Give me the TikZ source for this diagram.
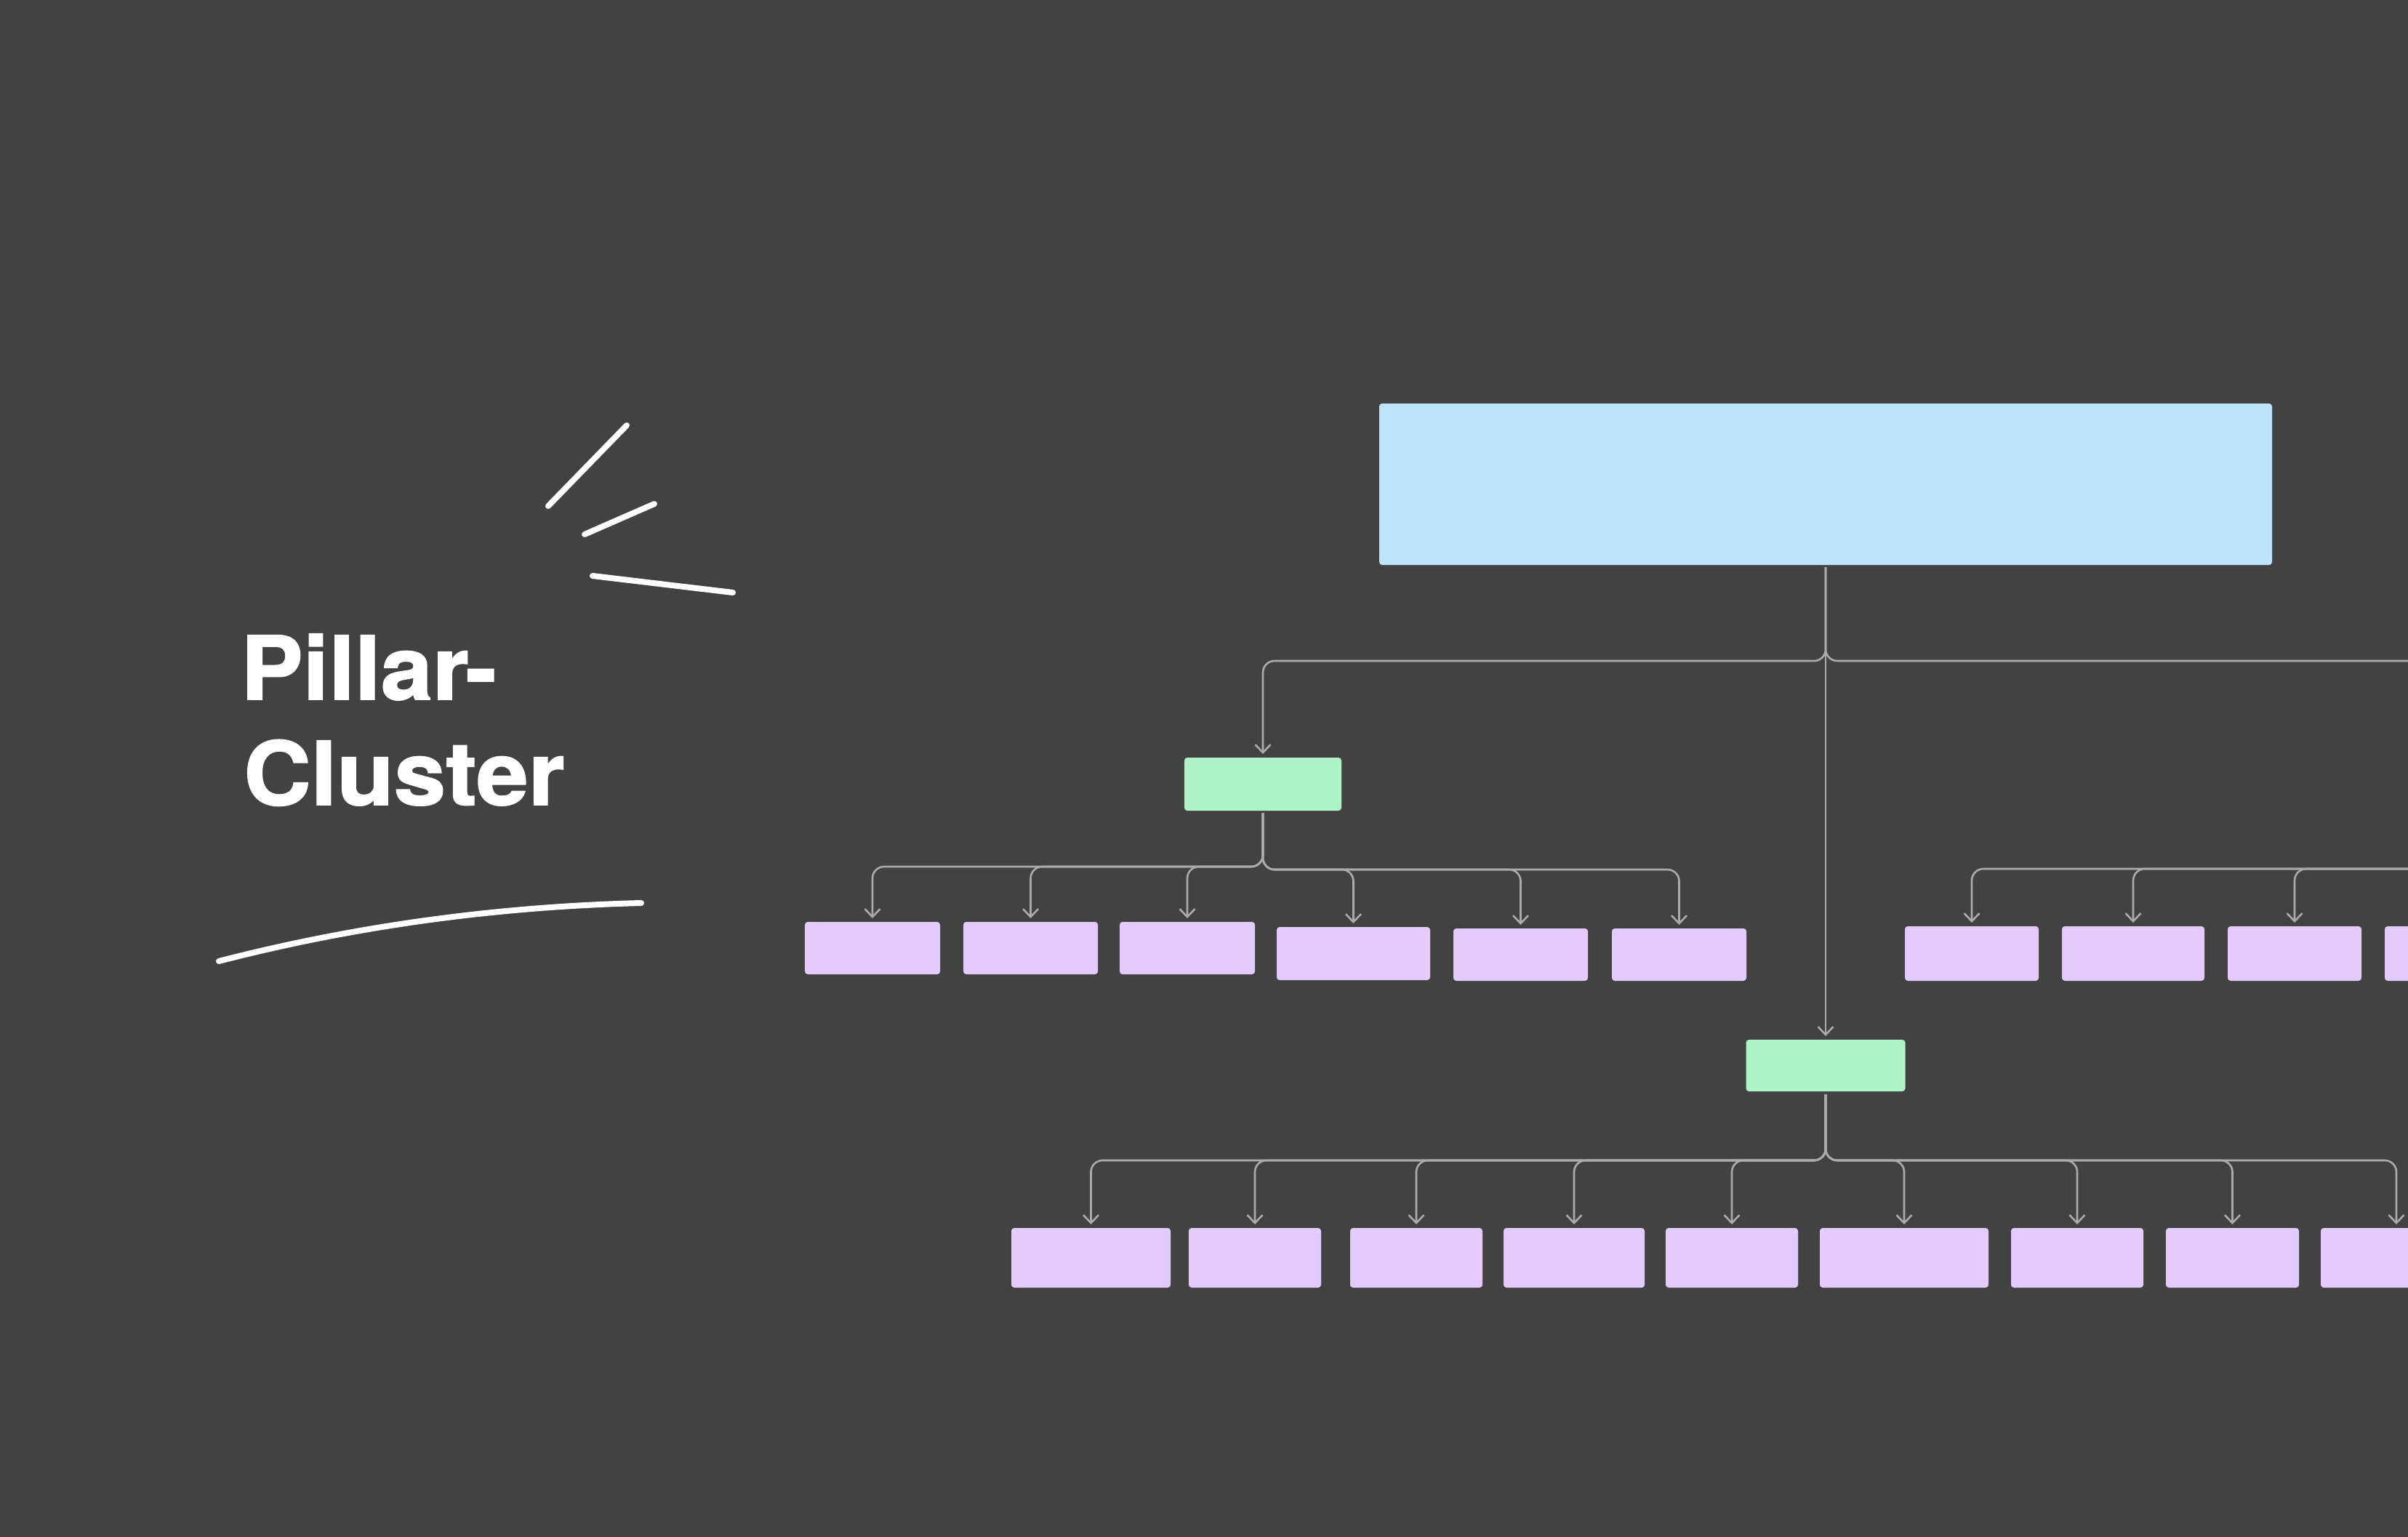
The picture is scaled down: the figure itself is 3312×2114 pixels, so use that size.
\documentclass[tikz,border=0pt]{standalone}
\usepackage{fontspec}
\setmainfont{TeX Gyre Heros}[BoldFeatures={FakeStretch=1.06,FakeBold=1.5}]
\usetikzlibrary{arrows.meta}
\definecolor{cbg}{HTML}{424242}
\definecolor{cblue}{HTML}{BDE3FD}
\definecolor{cgreen}{HTML}{AEF4C8}
\definecolor{cpurple}{HTML}{E3CCFD}
\definecolor{cline}{HTML}{ABABAB}
\begin{document}
\begin{tikzpicture}[x=1pt,y=-1pt,
  box/.style={rounded corners=4pt, inner sep=0pt, outer sep=0pt, draw=none},
  bluebox/.style={box, fill=cblue},
  greenbox/.style={box, fill=cgreen},
  purplebox/.style={box, fill=cpurple},
  conn/.style={draw=cline, line width=2.6pt, rounded corners=16pt},
  arr/.style={conn, -{Straight Barb[length=11pt,width=21pt]}, shorten >=5pt},
  stroke/.style={white, line width=8pt, line cap=round},
  title/.style={font=\fontsize{121}{145}\selectfont\bfseries, text=white, inner sep=0pt, anchor=base west}
]
\fill[cbg] (0,0) rectangle (3312,2114);
\clip (0,0) rectangle (3312,2114);

% title and decoration
\node[title] (t1) at (331,962) {Pillar-};
\node[title] (t2) at (335,1107) {Cluster};
\draw[stroke] (754,696) -- (862,585);
\draw[stroke] (804,735) -- (900,693);
\draw[stroke] (815,792) -- (1008,815);
\draw[stroke] (301,1322) .. controls (487,1274) and (681,1247) .. (882,1242);

% main nodes
\node[bluebox, minimum width=1228pt, minimum height=222pt] (top) at (2511,666) {};
\node[greenbox, minimum width=216pt, minimum height=73pt] (g1) at (1737,1078.5) {};
\node[greenbox, minimum width=219pt, minimum height=71pt] (g2) at (2511,1465.5) {};

% row 1
\node[purplebox, minimum width=186pt, minimum height=72pt] (r1) at (1200,1304) {};
\node[purplebox, minimum width=185pt, minimum height=72pt] (r2) at (1417.5,1304) {};
\node[purplebox, minimum width=186pt, minimum height=72pt] (r3) at (1633,1304) {};
\node[purplebox, minimum width=211pt, minimum height=73pt] (r4) at (1861.5,1311.5) {};
\node[purplebox, minimum width=185pt, minimum height=72pt] (r5) at (2091.5,1313) {};
\node[purplebox, minimum width=185pt, minimum height=72pt] (r6) at (2309.5,1313) {};
\node[purplebox, minimum width=184pt, minimum height=75pt] (r7) at (2712,1311.5) {};
\node[purplebox, minimum width=196pt, minimum height=75pt] (r8) at (2934,1311.5) {};
\node[purplebox, minimum width=184pt, minimum height=75pt] (r9) at (3156,1311.5) {};
\node[purplebox, minimum width=184pt, minimum height=75pt] (r10) at (3372,1311.5) {};

% row 2
\node[purplebox, minimum width=219pt, minimum height=82pt] (s1) at (1500.5,1730) {};
\node[purplebox, minimum width=182pt, minimum height=82pt] (s2) at (1726,1730) {};
\node[purplebox, minimum width=182pt, minimum height=82pt] (s3) at (1948,1730) {};
\node[purplebox, minimum width=194pt, minimum height=82pt] (s4) at (2165,1730) {};
\node[purplebox, minimum width=182pt, minimum height=82pt] (s5) at (2382,1730) {};
\node[purplebox, minimum width=232pt, minimum height=82pt] (s6) at (2619,1730) {};
\node[purplebox, minimum width=182pt, minimum height=82pt] (s7) at (2857,1730) {};
\node[purplebox, minimum width=183pt, minimum height=82pt] (s8) at (3070.5,1730) {};
\node[purplebox, minimum width=208pt, minimum height=82pt] (s9) at (3296,1730) {};

% off-picture ends
\coordinate (qright) at (3340,909);
\coordinate (p3) at (3340,1195);

% connectors from top
\draw[arr, shorten <=3pt] (top.south) -- ++(0,132) -| (g1.north);
\draw[conn, shorten <=3pt] (top.south) -- ++(0,132) -- (qright);
\draw[arr, shorten <=3pt] (top.south) -- (g2.north);

% connectors from g1
\foreach \c in {r1,r2,r3} {\draw[arr, shorten <=3pt] (g1.south) -- ++(0,77) -| (\c.north);}
\foreach \c in {r4,r5,r6} {\draw[arr, shorten <=3pt] (g1.south) -- ++(0,81) -| (\c.north);}

% connectors from off-picture parent
\foreach \c in {r7,r8,r9,r10} {\draw[arr] (p3) -| (\c.north);}

% connectors from g2
\foreach \c in {s1,s2,s3,s4,s5,s6,s7,s8,s9} {\draw[arr, shorten <=4pt] (g2.south) -- ++(0,95) -| (\c.north);}
\end{tikzpicture}
\end{document}
